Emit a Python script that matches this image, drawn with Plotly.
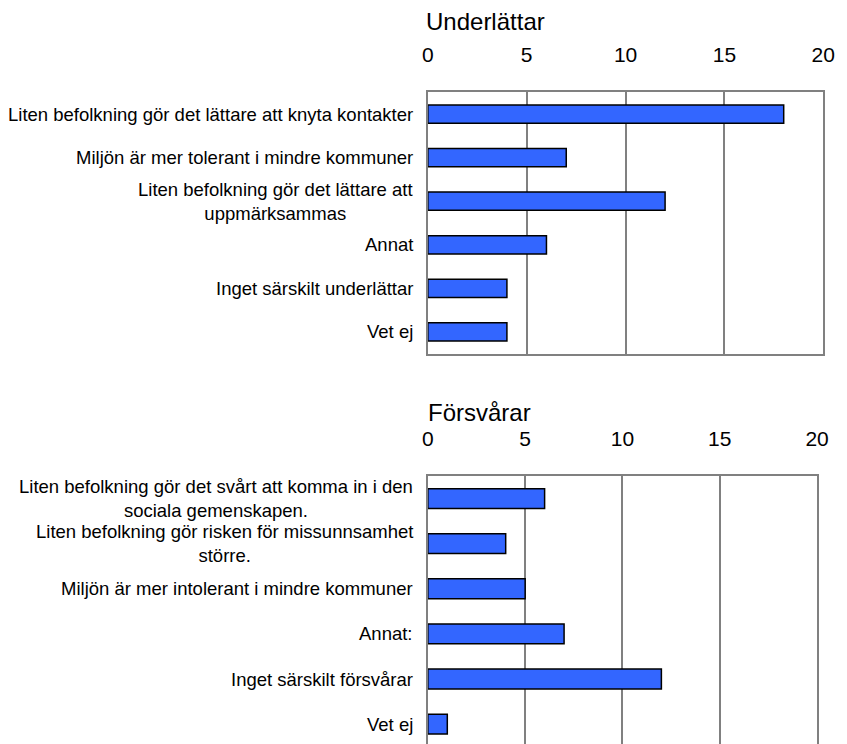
import plotly.graph_objects as go

# Data
underlattar_labels = [
    "Liten befolkning gör det lättare att knyta kontakter",
    "Miljön är mer tolerant i mindre kommuner",
    "Liten befolkning gör det lättare att<br>uppmärksammas",
    "Annat",
    "Inget särskilt underlättar",
    "Vet ej",
]
underlattar_values = [18, 7, 12, 6, 4, 4]

forsvarar_labels = [
    "Liten befolkning gör det svårt att komma in i den<br>sociala gemenskapen.",
    "Liten befolkning gör risken för missunnsamhet<br>större.",
    "Miljön är mer intolerant i mindre kommuner",
    "Annat:",
    "Inget särskilt försvårar",
    "Vet ej",
]
forsvarar_values = [6, 4, 5, 7, 12, 1]

x_ticks = [0, 5, 10, 15, 20]

FONT = "Liberation Sans, Arial, sans-serif"
BAR_COLOR = "#3366FF"
GRID = "#808080"

fig = go.Figure()

fig.add_trace(
    go.Bar(
        x=underlattar_values,
        y=underlattar_labels,
        orientation="h",
        width=0.42,
        marker=dict(color=BAR_COLOR, line=dict(color="black", width=1.5)),
        xaxis="x",
        yaxis="y",
        showlegend=False,
    )
)

fig.add_trace(
    go.Bar(
        x=forsvarar_values,
        y=forsvarar_labels,
        orientation="h",
        width=0.44,
        marker=dict(color=BAR_COLOR, line=dict(color="black", width=1.5)),
        xaxis="x2",
        yaxis="y2",
        showlegend=False,
    )
)

tick_font = dict(family=FONT, size=21, color="black")

fig.update_layout(
    width=847,
    height=744,
    margin=dict(l=0, r=0, t=0, b=0),
    paper_bgcolor="white",
    plot_bgcolor="white",
    font=dict(family=FONT, color="black"),
    xaxis=dict(
        domain=[431 / 847, 835 / 847],
        range=[0, 20],
        side="top",
        anchor="y",
        tickvals=x_ticks,
        tickfont=tick_font,
        ticklabelstandoff=20,
        showgrid=True,
        gridcolor=GRID,
        gridwidth=1.5,
        showline=True,
        linecolor=GRID,
        linewidth=1.5,
        mirror=True,
        zeroline=False,
    ),
    yaxis=dict(
        domain=[1 - 353.7 / 744, 1 - 92.3 / 744],
        anchor="x",
        type="category",
        range=[5.5, -0.5],
        showticklabels=False,
        showline=True,
        linecolor=GRID,
        linewidth=1.5,
        mirror=True,
        showgrid=False,
        zeroline=False,
    ),
    xaxis2=dict(
        domain=[431 / 847, 828.7 / 847],
        range=[0, 20],
        side="top",
        anchor="y2",
        tickvals=x_ticks,
        tickfont=tick_font,
        ticklabelstandoff=20,
        showgrid=True,
        gridcolor=GRID,
        gridwidth=1.5,
        showline=True,
        linecolor=GRID,
        linewidth=1.5,
        mirror=False,
        zeroline=False,
    ),
    yaxis2=dict(
        domain=[0, 1 - 476 / 744],
        anchor="x2",
        type="category",
        range=[5.44, -0.5],
        showticklabels=False,
        showline=True,
        linecolor=GRID,
        linewidth=1.5,
        mirror=True,
        showgrid=False,
        zeroline=False,
    ),
)

# in the lower chart the 5 and 15 gridlines are black in the original
for t in (x_ticks[1], x_ticks[3]):
    fig.add_shape(
        type="line", xref="x2", yref="y2 domain",
        x0=t, x1=t, y0=0, y1=1,
        line=dict(color="black", width=1), layer="below",
    )

# Category labels, centred lines like the original
label_font = dict(family=FONT, size=18.5, color="black")
for lab in underlattar_labels:
    fig.add_annotation(
        x=0, xref="x domain", y=lab, yref="y",
        text=lab, showarrow=False, xanchor="right", yanchor="middle",
        xshift=-13, align="center", font=label_font,
    )
for lab in forsvarar_labels:
    fig.add_annotation(
        x=0, xref="x2 domain", y=lab, yref="y2",
        text=lab, showarrow=False, xanchor="right", yanchor="middle",
        xshift=-13, align="center", font=label_font,
    )

# Chart titles
title_font = dict(family=FONT, size=24, color="black")
fig.add_annotation(
    x=427 / 847, xref="paper", y=1 - 21.5 / 744, yref="paper",
    text="Underlättar", showarrow=False, xanchor="left", yanchor="middle",
    font=title_font,
)
fig.add_annotation(
    x=429 / 847, xref="paper", y=1 - 413 / 744, yref="paper",
    text="Försvårar", showarrow=False, xanchor="left", yanchor="middle",
    font=title_font,
)

# no page margin so the figure sits at the window's top-left corner
fig.write_html(
    "out.html",
    config={"displayModeBar": False},
    post_script="document.body.style.margin='0';",
)
